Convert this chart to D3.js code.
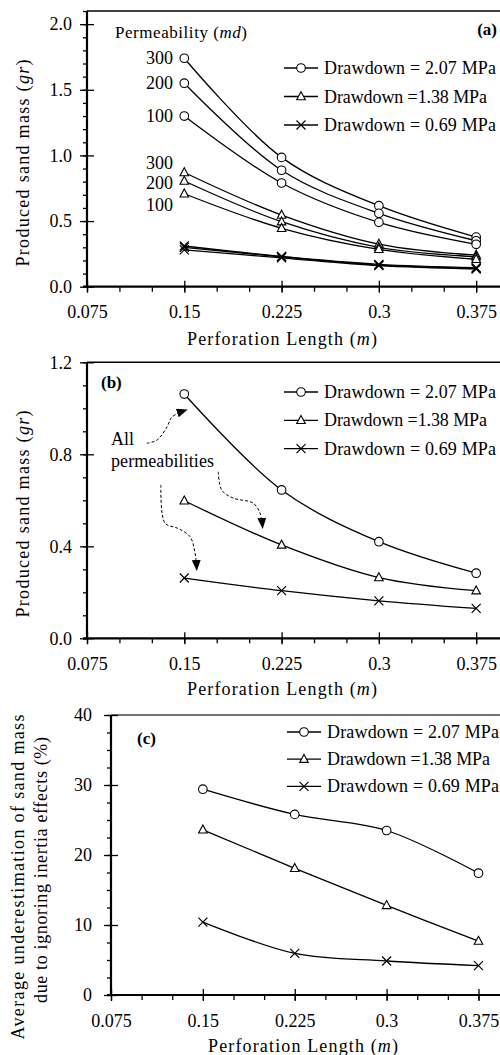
<!DOCTYPE html>
<html>
<head>
<meta charset="utf-8">
<script src="https://cdn.jsdelivr.net/npm/d3@7"></script>
<style>
  body { margin: 0; background: #fff; }
  .axis path, .axis line { stroke: #000; }
</style>
</head>
<body>
<div id="chart"></div>
<script>
const FONT = '"Liberation Serif", "Times New Roman", Tinos';

// x values (perforation length, m)
const perfLength = [0.15, 0.225, 0.3, 0.375];
const xTicks = [0.075, 0.15, 0.225, 0.3, 0.375];
const xTickLabels = ["0.075", "0.15", "0.225", "0.3", "0.375"];

const drawdowns = ["Drawdown = 2.07 MPa", "Drawdown =1.38 MPa", "Drawdown = 0.69 MPa"];
const markerKinds = ["circle", "triangle", "cross"];
const permLabels = ["300", "200", "100"];

// panel (a): produced sand mass per permeability (300, 200, 100 md)
const massA_207 = [[1.74, 0.985, 0.617, 0.378], [1.55, 0.887, 0.559, 0.35], [1.30, 0.79, 0.49, 0.323]];
const massA_138 = [[0.87, 0.546, 0.325, 0.241], [0.805, 0.495, 0.30, 0.228], [0.708, 0.445, 0.285, 0.209]];
const massA_069 = [[0.31, 0.23, 0.17, 0.145], [0.30, 0.228, 0.165, 0.14], [0.28, 0.22, 0.16, 0.135]];
const yTicksA = [0, 0.5, 1.0, 1.5, 2.0];
const yTickLabelsA = ["0.0", "0.5", "1.0", "1.5", "2.0"];

// panel (b): all permeabilities
const massB = [[1.062, 0.645, 0.42, 0.283], [0.598, 0.406, 0.264, 0.207], [0.262, 0.207, 0.163, 0.13]];
const yTicksB = [0, 0.4, 0.8, 1.2];
const yTickLabelsB = ["0.0", "0.4", "0.8", "1.2"];

// panel (c): underestimation (%)
const underC = [[29.4, 25.8, 23.5, 17.4], [23.6, 18.1, 12.8, 7.7], [10.4, 5.95, 4.86, 4.2]];
const yTicksC = [0, 10, 20, 30, 40];
const yTickLabelsC = ["0", "10", "20", "30", "40"];

// dashed annotation arrows in panel (b), in data units [m, gr]
const arrowPaths = [
  [[0.121, 0.848], [0.129, 0.862], [0.1367, 0.919], [0.1405, 0.962], [0.1519, 0.993]],
  [[0.1762, 0.724], [0.1788, 0.645], [0.1875, 0.610], [0.203, 0.588], [0.2083, 0.545], [0.2104, 0.480]],
  [[0.132, 0.667], [0.1351, 0.501], [0.1451, 0.478], [0.1544, 0.442], [0.1583, 0.371], [0.1596, 0.297]]
];

const width = 500, height = 1055;
const svg = d3.select("#chart").append("svg")
  .attr("width", width).attr("height", height)
  .style("font-family", FONT);

svg.append("defs").append("marker")
  .attr("id", "head")
  .attr("markerUnits", "userSpaceOnUse")
  .attr("markerWidth", 12).attr("markerHeight", 10)
  .attr("refX", 10).attr("refY", 4.5)
  .attr("orient", "auto")
  .append("path").attr("d", "M0,0L11,4.5L0,9Z").attr("fill", "#000");

function txt(g, x, y, size) {
  return g.append("text").attr("x", x).attr("y", y)
    .style("font-family", FONT).style("font-size", size + "px").attr("fill", "#000");
}

function marker(g, kind, x, y) {
  if (kind === "circle") {
    g.append("circle").attr("cx", x).attr("cy", y).attr("r", 4.3)
      .attr("fill", "#fff").attr("stroke", "#000").attr("stroke-width", 1.1);
  } else if (kind === "triangle") {
    g.append("path").attr("d", `M${x},${y - 4.8}L${x + 4.3},${y + 3.2}L${x - 4.3},${y + 3.2}Z`)
      .attr("fill", "#fff").attr("stroke", "#000").attr("stroke-width", 1.1);
  } else {
    g.append("path").attr("d", `M${x - 4.5},${y - 4.5}L${x + 4.5},${y + 4.5}M${x - 4.5},${y + 4.5}L${x + 4.5},${y - 4.5}`)
      .attr("stroke", "#000").attr("stroke-width", 1.2);
  }
}

function panel(opt) {
  const x = d3.scaleLinear().domain([0.075, 0.4]).range([opt.left, opt.right]);
  const y = d3.scaleLinear().domain([0, opt.yMax]).range([opt.bottom, opt.top]);
  const g = svg.append("g");

  // top frame line
  g.append("line").attr("x1", opt.left).attr("x2", opt.right)
    .attr("y1", opt.top).attr("y2", opt.top)
    .attr("stroke", opt.frameColor || "#000").attr("stroke-width", 1.6);

  // minor ticks
  g.append("g").attr("class", "axis")
    .attr("transform", `translate(${opt.left},0)`)
    .call(d3.axisLeft(y).tickValues(d3.range(0, opt.yMax + 1e-9, opt.yMinor)).tickSize(4).tickFormat(""))
    .call(s => s.select(".domain").remove())
    .selectAll("line").attr("stroke-width", 1.3);
  g.append("g").attr("class", "axis")
    .attr("transform", `translate(0,${opt.bottom})`)
    .call(d3.axisBottom(x).tickValues(d3.range(0.075, 0.4, 0.025)).tickSize(5).tickFormat(""))
    .call(s => s.select(".domain").remove())
    .selectAll("line").attr("stroke-width", 1.3);

  // major ticks crossing the axis
  g.append("g").attr("class", "axis")
    .attr("transform", `translate(${opt.left},0)`)
    .call(d3.axisRight(y).tickValues(opt.yTicks).tickSize(7).tickFormat(""))
    .call(s => s.select(".domain").remove())
    .selectAll("line").attr("stroke-width", 1.3);
  g.append("g").attr("class", "axis")
    .attr("transform", `translate(0,${opt.bottom})`)
    .call(d3.axisTop(x).tickValues(xTicks).tickSize(6).tickFormat(""))
    .call(s => s.select(".domain").remove())
    .selectAll("line").attr("stroke-width", 1.3);

  const yAxis = g.append("g").attr("class", "axis")
    .attr("transform", `translate(${opt.left},0)`)
    .call(d3.axisLeft(y).tickValues(opt.yTicks).tickSize(7).tickSizeOuter(0)
      .tickPadding(opt.yPad).tickFormat((d, i) => opt.yLabels[i]));
  yAxis.select(".domain").attr("d", `M0,${opt.bottom}V${opt.top}`).attr("stroke-width", 2.2);
  yAxis.selectAll("line").attr("stroke-width", 1.3);
  yAxis.selectAll("text").style("font-family", FONT).style("font-size", "18px").attr("fill", "#000");

  const xAxis = g.append("g").attr("class", "axis")
    .attr("transform", `translate(0,${opt.bottom})`)
    .call(d3.axisBottom(x).tickValues(xTicks).tickSize(6).tickSizeOuter(0)
      .tickFormat((d, i) => xTickLabels[i]));
  xAxis.select(".domain").attr("d", `M${opt.left - 4},0H${opt.right}`).attr("stroke-width", 2.2);
  xAxis.selectAll("line").attr("stroke-width", 1.3);
  xAxis.selectAll("text").attr("y", 19)
    .style("font-family", FONT).style("font-size", "18px").attr("fill", "#000");

  // series
  const line = d3.line().x((d, i) => x(perfLength[i])).y(d => y(d)).curve(d3.curveCatmullRom);
  opt.series.forEach(s => {
    s.values.forEach(vals => {
      g.append("path").attr("d", line(vals))
        .attr("fill", "none").attr("stroke", "#000").attr("stroke-width", 1.3);
    });
  });
  opt.series.forEach(s => {
    s.values.forEach(vals => {
      vals.forEach((v, i) => marker(g, s.kind, x(perfLength[i]), y(v)));
    });
  });

  // legend
  drawdowns.forEach((t, i) => {
    const ly = opt.legendY + i * opt.legendStep;
    g.append("line").attr("x1", opt.legendX).attr("x2", opt.legendX + 34)
      .attr("y1", ly).attr("y2", ly).attr("stroke", "#000").attr("stroke-width", 1.3);
    marker(g, markerKinds[i], opt.legendX + 17, ly);
    txt(g, opt.legendX + 40, ly + 6, 18).attr("textLength", i === 1 ? 163 : 172).text(t);
  });

  // panel tag
  txt(g, opt.tagX, opt.tagY, 17)
    .attr("text-anchor", opt.tagAnchor).style("font-weight", "bold").text(opt.tag);

  // x title
  const xt = txt(g, opt.xTitleX, opt.xTitleY, 18)
    .attr("text-anchor", "middle").attr("textLength", 190);
  xt.append("tspan").text("Perforation  Length  (");
  xt.append("tspan").style("font-style", "italic").text("m");
  xt.append("tspan").text(")");

  return { x, y, g };
}

// panel (a)
const pa = panel({
  left: 87, right: 508.6, top: 11, bottom: 286.7, yMax: 2.1, yMinor: 0.1,
  yTicks: yTicksA, yLabels: yTickLabelsA, yPad: 8,
  series: [
    { kind: "circle", values: massA_207 },
    { kind: "triangle", values: massA_138 },
    { kind: "cross", values: massA_069 }
  ],
  legendX: 284, legendY: 68, legendStep: 28.5,
  tag: "(a)", tagX: 497, tagY: 35, tagAnchor: "end",
  xTitleX: 282, xTitleY: 345
});

// panel (b)
const pb = panel({
  left: 87, right: 508.6, top: 362.3, bottom: 638.3, yMax: 1.2, yMinor: 0.1,
  yTicks: yTicksB, yLabels: yTickLabelsB, yPad: 8,
  series: [
    { kind: "circle", values: [massB[0]] },
    { kind: "triangle", values: [massB[1]] },
    { kind: "cross", values: [massB[2]] }
  ],
  legendX: 284, legendY: 392, legendStep: 28.3,
  tag: "(b)", tagX: 101, tagY: 388, tagAnchor: "start",
  xTitleX: 282, xTitleY: 695
});

// panel (c)
const pc = panel({
  left: 111, right: 509.1, top: 715, bottom: 995, yMax: 40, yMinor: 2.5,
  yTicks: yTicksC, yLabels: yTickLabelsC, yPad: 12,
  series: [
    { kind: "circle", values: [underC[0]] },
    { kind: "triangle", values: [underC[1]] },
    { kind: "cross", values: [underC[2]] }
  ],
  legendX: 287, legendY: 732, legendStep: 27.2,
  tag: "(c)", tagX: 137, tagY: 744, tagAnchor: "start",
  xTitleX: 303, xTitleY: 1052, frameColor: "#444"
});

// y titles
function yTitle(cx, cy, len, parts) {
  const t = svg.append("text").attr("transform", `translate(${cx},${cy}) rotate(-90)`)
    .attr("text-anchor", "middle").style("font-family", FONT).style("font-size", "18px")
    .attr("textLength", len);
  parts.forEach(p => t.append("tspan").style("font-style", p[1] ? "italic" : null).text(p[0]));
}
yTitle(29, 163, 207, [["Produced sand mass (", 0], ["gr", 1], [")", 0]]);
yTitle(29, 514, 207, [["Produced sand mass (", 0], ["gr", 1], [")", 0]]);
yTitle(24, 877, 325, [["Average underestimation of sand mass", 0]]);
yTitle(47, 870, 266, [["due to ignoring inertia effects (%)", 0]]);

// permeability annotations in (a)
const pt = txt(pa.g, 115, 38, 17).attr("textLength", 132);
pt.append("tspan").text("Permeability  (");
pt.append("tspan").style("font-style", "italic").text("md");
pt.append("tspan").text(")");
const triOffsets = [-9, 2, 11];
permLabels.forEach((p, i) => {
  txt(pa.g, 173, pa.y(massA_207[i][0]) + 6, 18).attr("text-anchor", "end").text(p);
  txt(pa.g, 173, pa.y(massA_138[i][0]) + triOffsets[i] + 6, 18).attr("text-anchor", "end").text(p);
});

// "All permeabilities" with dashed arrows in (b)
txt(pb.g, 111, 445, 18).text("All");
txt(pb.g, 111, 467, 18).attr("textLength", 103).text("permeabilities");
const arrowLine = d3.line().x(d => pb.x(d[0])).y(d => pb.y(d[1])).curve(d3.curveCatmullRom);
arrowPaths.forEach(a => {
  pb.g.append("path").attr("d", arrowLine(a))
    .attr("fill", "none").attr("stroke", "#000").attr("stroke-width", 1)
    .attr("stroke-dasharray", "3,2").attr("marker-end", "url(#head)");
});
</script>
</body>
</html>
